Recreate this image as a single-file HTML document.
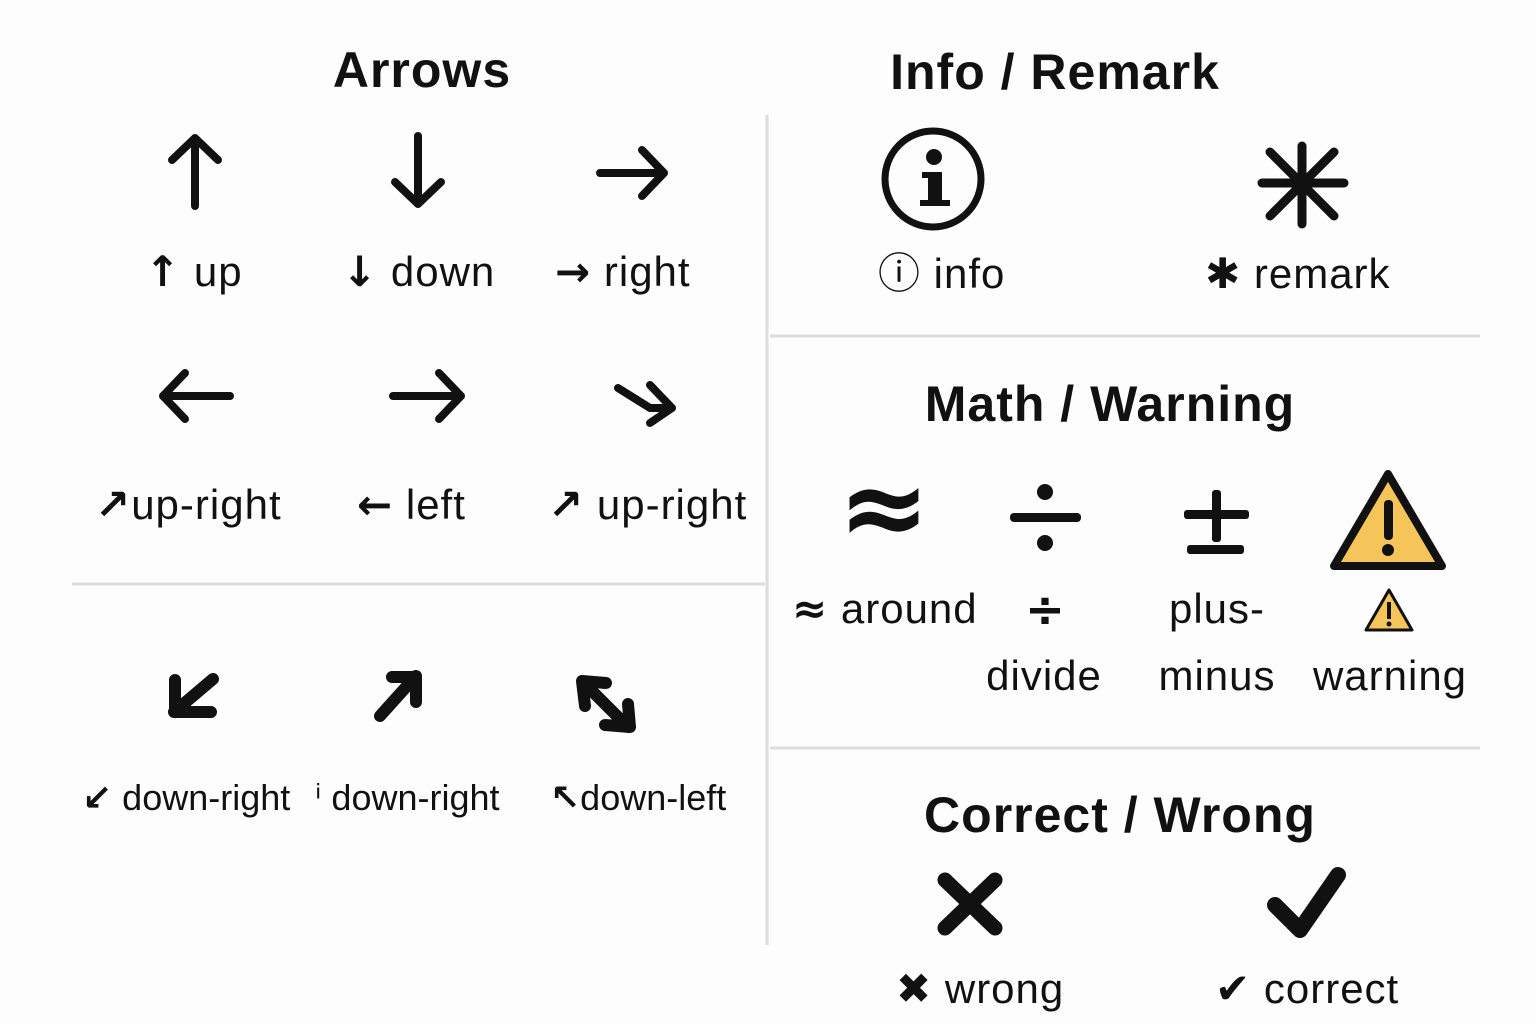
<!DOCTYPE html>
<html><head><meta charset="utf-8"><style>
html,body{margin:0;padding:0;background:#fdfdfd;}
svg{display:block}
text{font-family:"Liberation Sans","DejaVu Sans",sans-serif;fill:#111;}
.t{font-size:50px;font-weight:bold;text-anchor:middle;letter-spacing:1px}
.l{font-size:42px;letter-spacing:1px}
.s{font-size:36px;}
.g{font-family:"DejaVu Sans",sans-serif;font-weight:bold}
</style></head><body>
<svg width="1536" height="1024" viewBox="0 0 1536 1024">
<rect width="1536" height="1024" fill="#fdfdfd"/>
<g stroke="#ddd" stroke-width="3">
<line x1="767" y1="115" x2="767" y2="945"/>
<line x1="72" y1="584" x2="765" y2="584"/>
<line x1="770" y1="336" x2="1480" y2="336"/>
<line x1="770" y1="748" x2="1480" y2="748"/>
</g>
<text class="t" x="422" y="87">Arrows</text>
<text class="t" x="1055" y="89">Info / Remark</text>
<text class="t" x="1110" y="421">Math / Warning</text>
<text class="t" x="1120" y="832">Correct / Wrong</text>

<g stroke="#111" stroke-width="8" fill="none" stroke-linecap="round" stroke-linejoin="round">
<path d="M195 206V138M172 160L195 138L218 160"/>
<path d="M418 136V204M395 182L418 204L441 182"/>
<path d="M600 173H664M642 150L664 173L642 196"/>
<path d="M230 396H163M185 373L163 396L185 419"/>
<path d="M393 396H461M439 373L461 396L439 419"/>
<path d="M618 388L650 408H672M650 385L672 408L650 423"/>
</g>
<g stroke="#111" stroke-width="12" fill="none" stroke-linecap="round" stroke-linejoin="round">
<path d="M174 712L213 679M175 680V712H211"/>
<path d="M380 716L416 676M392 677H416V702"/>
<path d="M587 686L628 727M585 706L582 681L606 683M605 725L630 727L628 704"/>
</g>

<text class="l" x="145" y="286"><tspan class="g">↑</tspan> up</text>
<text class="l" x="342" y="286"><tspan class="g">↓</tspan> down</text>
<text class="l" x="555" y="286"><tspan class="g">→</tspan> right</text>
<text class="l" x="95" y="519"><tspan class="g">↗</tspan>up-right</text>
<text class="l" x="357" y="519"><tspan class="g">←</tspan> left</text>
<text class="l" x="548" y="519"><tspan class="g">↗</tspan> up-right</text>
<text class="s" x="82" y="810"><tspan class="g">↙</tspan> down-right</text>
<text class="s" x="315" y="810">ⁱ down-right</text>
<text class="s" x="550" y="810"><tspan class="g">↖</tspan>down-left</text>

<circle cx="933" cy="179" r="48" fill="none" stroke="#111" stroke-width="7"/>
<circle cx="934" cy="157" r="8" fill="#111"/>
<path d="M922 172H942V200H950V206H920V200H928V178H922Z" fill="#111"/>
<text class="l" x="878" y="288">ⓘ info</text>
<g stroke="#111" stroke-width="9" stroke-linecap="round">
<line x1="1302" y1="146" x2="1302" y2="224"/><line x1="1262" y1="183" x2="1344" y2="183"/>
<line x1="1270" y1="152" x2="1334" y2="216"/><line x1="1334" y1="152" x2="1270" y2="216"/>
</g>
<text class="l" x="1205" y="288">✱ remark</text>

<text x="884" y="545" font-size="110" font-weight="bold" text-anchor="middle" class="g">≈</text>
<g fill="#111"><circle cx="1045" cy="492" r="8"/><circle cx="1045" cy="543" r="8"/><rect x="1010" y="513" width="71" height="9" rx="4"/>
<rect x="1212" y="490" width="9" height="52" rx="3"/><rect x="1184" y="510" width="65" height="9" rx="3"/><rect x="1187" y="545" width="57" height="9" rx="3"/></g>
<path d="M1388 474L1442 566H1334Z" fill="#f5c55a" stroke="#111" stroke-width="8" stroke-linejoin="round"/>
<rect x="1384" y="500" width="9" height="40" rx="4" fill="#111"/><circle cx="1388" cy="550" r="6" fill="#111"/>
<text class="l" x="792" y="623"><tspan class="g">≈</tspan> around</text>
<text x="1045" y="626" text-anchor="middle" font-size="48" class="g">÷</text>
<text class="l" x="1044" y="690" text-anchor="middle">divide</text>
<text class="l" x="1217" y="623" text-anchor="middle">plus-</text>
<text class="l" x="1217" y="690" text-anchor="middle">minus</text>
<path d="M1389 590L1412 630H1366Z" fill="#f5c55a" stroke="#111" stroke-width="3" stroke-linejoin="round"/>
<rect x="1387" y="602" width="4" height="17" fill="#111"/><circle cx="1389" cy="624" r="2.5" fill="#111"/>
<text class="l" x="1390" y="690" text-anchor="middle">warning</text>

<g stroke="#111" stroke-width="15" stroke-linecap="round"><line x1="945" y1="880" x2="995" y2="928"/><line x1="995" y1="880" x2="945" y2="928"/></g>
<path d="M1275 905L1300 930L1338 875" stroke="#111" stroke-width="16" fill="none" stroke-linecap="round" stroke-linejoin="round"/>
<text class="l" x="896" y="1003">✖ wrong</text>
<text class="l" x="1215" y="1003">✔ correct</text>
</svg>
</body></html>
